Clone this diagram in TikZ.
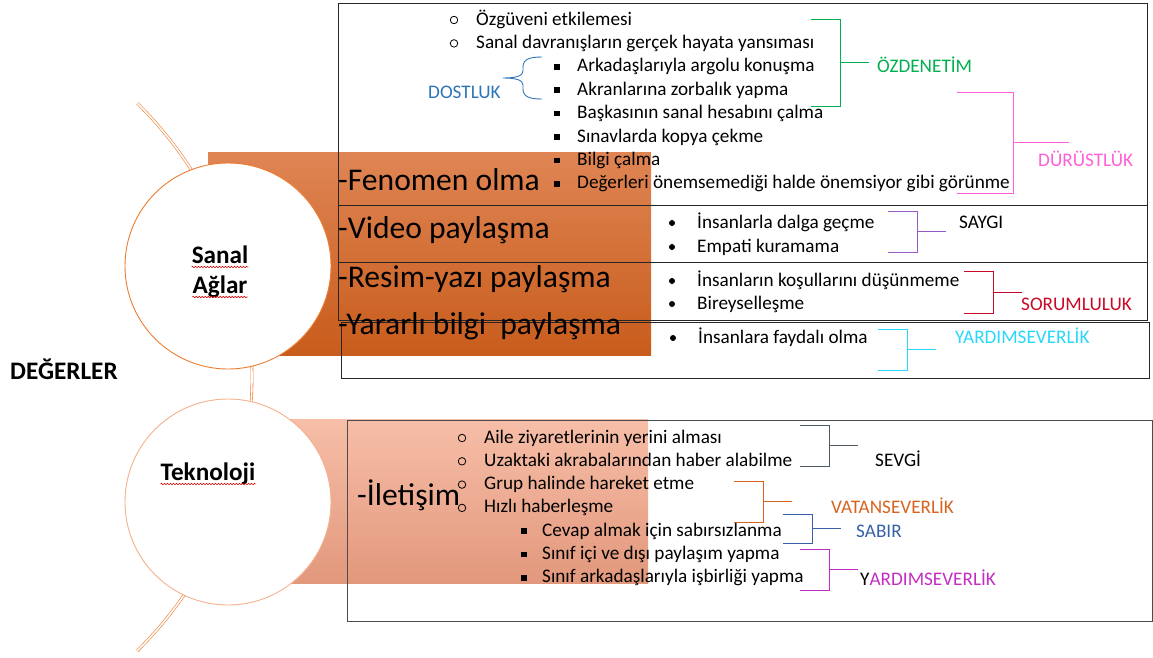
\documentclass[tikz,border=0pt]{standalone}
\usepackage{fontspec}
\setmainfont{Carlito}
\usetikzlibrary{positioning}
\usetikzlibrary{decorations.pathmorphing}
\definecolor{ringc}{RGB}{237,125,49}
\definecolor{hubtwo}{RGB}{244,177,140}
\definecolor{dostc}{RGB}{46,117,182}
\definecolor{ozdc}{RGB}{0,176,80}
\definecolor{durc}{RGB}{255,95,215}
\definecolor{saygc}{RGB}{150,90,200}
\definecolor{sorc}{RGB}{200,10,40}
\definecolor{yardc}{RGB}{40,215,250}
\definecolor{sevc}{RGB}{80,90,100}
\definecolor{vatc}{RGB}{215,100,30}
\definecolor{sabc}{RGB}{55,95,170}
\definecolor{yardtwoc}{RGB}{195,45,195}
\tikzstyle{item} = [anchor=base west, inner sep=0pt, font=\fontsize{19.2}{19.2}\selectfont]
\tikzstyle{topic} = [anchor=base west, inner sep=0pt, font=\fontsize{31.6}{31.6}\selectfont]
\tikzstyle{hub} = [circle, fill=white, minimum size=206pt, inner sep=0pt, line width=0.9pt]
\tikzstyle{hubtext} = [anchor=base, inner sep=0pt, font=\fontsize{25.2}{25.2}\selectfont\bfseries]
\tikzstyle{obul} = [circle, draw, line width=0.8pt, minimum size=7.5pt, inner sep=0pt]
\tikzstyle{sbul} = [rectangle, fill=black, minimum size=5.5pt, inner sep=0pt]
\tikzstyle{dbul} = [circle, fill=black, minimum size=6pt, inner sep=0pt]
\tikzstyle{boxline} = [draw=black!85, line width=0.9pt]
\tikzstyle{bracketline} = [line width=0.9pt]
\tikzstyle{spell} = [red!85!black, line width=0.6pt, decorate, decoration={snake, amplitude=0.7pt, segment length=3pt}]
\tikzstyle{ring} = [draw=ringc, double, double distance=1.6pt, line width=0.6pt]
% list line: name, bullet style, bullet x, text x, baseline y, text
\newcommand{\ListItem}[6]{%
  \node[item] (#1) at (#4,#5) {#6};
  \node[#2] (#1b) at (#3,#5-5) {};}
% value bracket: [arm], colour, x of bar, top y, bottom y
\newcommand{\ValBracket}[5][29]{%
  \draw[#2, bracketline] (#3-#1,#4) -- (#3,#4) -- (#3,#5) -- (#3-#1,#5)
    (#3,#4/2+#5/2) -- (#3+#1,#4/2+#5/2);}

\begin{document}
\begin{tikzpicture}[x=1pt, y=-1pt]
\useasboundingbox (0,0) rectangle (1153,657);

% Background shapes
\draw[ring] (-132,377) ++(45.5:384pt) arc[start angle=45.5, end angle=-45.5, radius=384pt];
\fill[top color={rgb,255:red,223;green,133;blue,84}, bottom color={rgb,255:red,200;green,92;blue,28}] (208,152) rectangle (651,355);
\fill[top color={rgb,255:red,247;green,190;blue,168}, bottom color={rgb,255:red,226;green,152;blue,124}] (208,419) rectangle (648,583);

% Define nodes
\node[hub, draw=ringc]  (sanal) at (228,266) {};
\node[hub, draw=hubtwo] (tekno) at (228,502) {};
\node[hubtext] (sanal1) at (220,263) {Sanal};
\node[hubtext] (sanal2) at (220,293) {Ağlar};
\node[hubtext] (tekno1) at (208,480) {Teknoloji};
\node[hubtext, anchor=base west] (deger) at (10,379) {DEĞERLER};

\draw[spell] ([yshift=-4pt]sanal1.base west) -- ([yshift=-4pt]sanal1.base east);
\draw[spell] ([yshift=-4pt]sanal2.base west) -- ([yshift=-4pt]sanal2.base east);
\draw[spell] ([yshift=-4pt]tekno1.base west) -- ([yshift=-4pt]tekno1.base east);

% Boxes
\draw[boxline] (338,3) rectangle (1147,205);
\draw[boxline] (338,205) rectangle (1147,262);
\draw[boxline] (338,262) rectangle (1147,320);
\draw[boxline] (341,322) rectangle (1149,378);
\draw[draw=black!70, line width=0.9pt] (347,420) rectangle (1152,621);

% Topics
\node[topic] (fenomen) at (338,190) {-Fenomen olma};
\node[topic] (video)   at (338,238) {-Video paylaşma};
\node[topic] (resim)   at (338,287) {-Resim-yazı paylaşma};
\node[topic] (yararli) at (338,334) {-Yararlı bilgi~ paylaşma};
\node[topic] (iletisim) at (357,505) {-İletişim};

% Lists
\ListItem{oz}{obul}{454}{476}{25}{Özgüveni etkilemesi}
\ListItem{sd}{obul}{454}{476}{48.4}{Sanal davranışların gerçek hayata yansıması}
\ListItem{ak}{sbul}{557}{577}{71.8}{Arkadaşlarıyla argolu konuşma}
\ListItem{zo}{sbul}{557}{577}{95.2}{Akranlarına zorbalık yapma}
\ListItem{hs}{sbul}{557}{577}{118.6}{Başkasının sanal hesabını çalma}
\ListItem{kc}{sbul}{557}{577}{142}{Sınavlarda kopya çekme}
\ListItem{bc}{sbul}{557}{577}{165.4}{Bilgi çalma}
\ListItem{dn}{sbul}{557}{577}{188.8}{Değerleri önemsemediği halde önemsiyor gibi görünme}
\ListItem{dg}{dbul}{672}{697}{228}{İnsanlarla dalga geçme}
\ListItem{ek}{dbul}{672}{697}{252}{Empati kuramama}
\ListItem{kd}{dbul}{672}{697}{286}{İnsanların koşullarını düşünmeme}
\ListItem{by}{dbul}{672}{697}{309}{Bireyselleşme}
\ListItem{fo}{dbul}{673}{698}{343}{İnsanlara faydalı olma}
\ListItem{az}{obul}{462}{484}{443}{Aile ziyaretlerinin yerini alması}
\ListItem{uh}{obul}{462}{484}{466.3}{Uzaktaki akrabalarından haber alabilme}
\ListItem{gh}{obul}{462}{484}{489.6}{Grup halinde hareket etme}
\ListItem{hh}{obul}{462}{484}{512.9}{Hızlı haberleşme}
\ListItem{cs}{sbul}{524}{542}{536.2}{Cevap almak için sabırsızlanma}
\ListItem{sp}{sbul}{524}{542}{559.5}{Sınıf içi ve dışı paylaşım yapma}
\ListItem{si}{sbul}{524}{542}{582.8}{Sınıf arkadaşlarıyla işbirliği yapma}

% Values
\node[item, text=dostc]    (dost)  at (428,98)  {DOSTLUK};
\node[item, text=ozdc]     (ozd)   at (877,72)  {ÖZDENETİM};
\node[item, text=durc]     (durust) at (1038,166) {DÜRÜSTLÜK};
\node[item]                (saygi) at (959,228) {SAYGI};
\node[item, text=sorc]     (sorum) at (1021,310) {SORUMLULUK};
\node[item, text=yardc]    (yard)  at (955,343) {YARDIMSEVERLİK};
\node[item]                (sevgi) at (875,466) {SEVGİ};
\node[item, text=vatc]     (vatan) at (831,513) {VATANSEVERLİK};
\node[item, text=sabc]     (sabir) at (856,537) {SABIR};
\node[item]                (yardb) at (860,585) {Y\textcolor{yardtwoc}{ARDIMSEVERLİK}};

% Brackets
\draw[dostc, bracketline] (542,57) .. controls (530,57) and (523,59) .. (523,67) -- (523,71)
  .. controls (523,76) and (516,78) .. (503,78) .. controls (516,78) and (523,80) .. (523,85)
  -- (523,89) .. controls (523,97) and (530,99) .. (542,99);
\ValBracket{ozdc}{840}{19}{106}
\ValBracket[56]{durc}{1013}{92}{193}
\ValBracket{saygc}{917}{211}{252}
\ValBracket{sorc}{993}{271}{313}
\ValBracket{yardc}{907}{329}{370}
\ValBracket{sevc}{829}{425}{466}
\ValBracket{vatc}{763}{481}{522}
\ValBracket{sabc}{812}{514}{543}
\ValBracket{yardtwoc}{829}{549}{590}
\end{tikzpicture}
\end{document}
